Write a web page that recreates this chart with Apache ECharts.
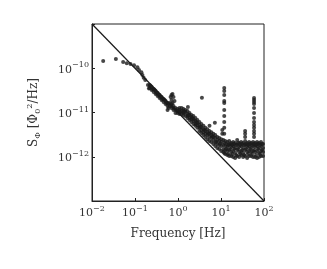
<!DOCTYPE html>
<html><head><meta charset="utf-8">
<script src="https://cdn.jsdelivr.net/npm/echarts@6/dist/echarts.min.js"></script>
<style>html,body{margin:0;padding:0;background:#fff}#c{width:327px;height:269px}</style>
</head><body><div id="c"></div>
<script>
// axis ticks (exponents of 10)
const xTickExps = [-2, -1, 0, 1, 2];
const yTickExps = [-10, -11, -12];
// reference 1/f line endpoints
const refFreq = [0.01, 100];
const refS = [1e-9, 1e-13];
// measured spectrum points [frequency Hz, S]
const lowFreq = [[0.0182,1.46e-10],[0.0359,1.62e-10],[0.053,1.38e-10],[0.0644,1.29e-10],[0.0785,1.25e-10],[0.095,1.17e-10],[0.114,1.05e-10],[0.124,9.1e-11],[0.141,8.1e-11],[0.149,7.0e-11],[0.159,6.1e-11],[0.173,5.4e-11],[0.2,4.2e-11],[0.211,3.5e-11]];
const rolloff = [[0.219,4.19e-11],[0.219,3.58e-11],[0.231,3.97e-11],[0.244,3.77e-11],[0.244,3.22e-11],[0.257,3.40e-11],[0.272,3.40e-11],[0.272,2.90e-11],[0.286,3.22e-11],[0.302,3.06e-11],[0.302,2.62e-11],[0.318,2.76e-11],[0.336,2.76e-11],[0.336,2.36e-11],[0.354,2.49e-11],[0.373,2.49e-11],[0.373,2.13e-11],[0.394,2.24e-11],[0.415,2.24e-11],[0.415,1.92e-11],[0.438,2.02e-11],[0.462,2.02e-11],[0.462,1.73e-11],[0.487,1.92e-11],[0.514,1.82e-11],[0.514,1.56e-11],[0.542,1.64e-11],[0.572,1.64e-11],[0.572,1.40e-11],[0.572,1.14e-11],[0.603,1.56e-11],[0.603,1.26e-11],[0.636,1.64e-11],[0.636,1.40e-11],
 [0.672,2.24e-11],[0.707,2.49e-11],[0.745,2.62e-11],[0.707,1.92e-11],[0.787,2.24e-11],[0.829,1.82e-11],[0.745,1.64e-11]];
const knee = [[0.707,1.56e-11],[0.707,1.40e-11],[0.707,1.26e-11],[0.787,1.40e-11],[0.787,1.26e-11],[0.787,1.14e-11],[0.875,1.26e-11],[0.875,1.14e-11],[0.875,9.8e-12],[0.973,1.20e-11],[0.973,1.08e-11],[0.973,9.8e-12],
 [1.08,1.26e-11],[1.08,1.14e-11],[1.08,1.03e-11],[1.08,9.3e-12],[1.21,1.26e-11],[1.21,1.08e-11],[1.21,9.3e-12],[1.34,1.20e-11],[1.34,1.08e-11],[1.34,9.8e-12],[1.34,8.8e-12],[1.49,1.14e-11],[1.49,1.03e-11],[1.49,8.3e-12],
 [1.66,1.08e-11],[1.66,9.3e-12],[1.66,8.3e-12],[1.66,7.5e-12],[1.85,9.8e-12],[1.85,8.8e-12],[1.85,7.5e-12],[1.85,6.8e-12],[2.05,8.8e-12],[2.05,7.9e-12],[2.05,7.1e-12],[2.05,6.1e-12],[2.28,8.3e-12],[2.28,7.1e-12],[2.28,6.4e-12],[2.28,5.5e-12],
 [2.54,7.5e-12],[2.54,6.4e-12],[2.54,5.5e-12],[2.54,5.0e-12],[2.82,6.8e-12],[2.82,5.8e-12],[2.82,5.2e-12],[2.82,4.5e-12],[3.14,6.1e-12],[3.14,5.2e-12],[3.14,4.5e-12],[3.14,3.8e-12],[3.49,5.5e-12],[3.49,4.7e-12],[3.49,4.0e-12],[3.49,3.45e-12],
 [3.89,5.0e-12],[3.89,4.2e-12],[3.89,3.6e-12],[3.89,3.1e-12],[4.32,4.5e-12],[4.32,3.8e-12],[4.32,3.3e-12],[4.32,2.8e-12],[4.81,4.2e-12],[4.81,3.6e-12],[4.81,3.1e-12],[4.81,2.5e-12],[5.35,3.8e-12],[5.35,3.3e-12],[5.35,2.8e-12],[5.35,2.27e-12],
 [5.95,3.6e-12],[5.95,3.1e-12],[5.95,2.65e-12],[5.95,2.15e-12],[6.62,3.3e-12],[6.62,2.8e-12],[6.62,2.4e-12],[6.62,1.94e-12],[7.36,3.1e-12],[7.36,2.65e-12],[7.36,2.15e-12],[7.36,1.75e-12],[8.19,2.8e-12],[8.19,2.4e-12],[8.19,1.94e-12],[8.19,1.58e-12],
 [9.12,2.65e-12],[9.12,2.27e-12],[9.12,1.84e-12],[9.12,1.5e-12],[10.1,2.5e-12],[10.1,2.15e-12],[10.1,1.75e-12],[10.1,1.35e-12],
 [1.14,1.03e-11],[1.41,1.03e-11],[1.75,8.8e-12],[2.16,7.5e-12],[2.68,6.1e-12],[3.31,4.7e-12],[4.10,4.0e-12],[5.07,3.3e-12],[6.28,2.9e-12],[7.76,2.15e-12],[9.6,2.0e-12]];
const plateau = [[11.3,2.4e-12],[11.3,1.84e-12],[11.3,1.5e-12],[11.3,1.28e-12],[12.5,2.27e-12],[12.5,1.75e-12],[12.5,1.42e-12],[12.5,1.15e-12],[14.0,2.15e-12],[14.0,1.66e-12],[14.0,1.35e-12],[14.0,1.09e-12],
 [15.5,2.27e-12],[15.5,1.84e-12],[15.5,1.42e-12],[15.5,1.04e-12],[17.3,2.05e-12],[17.3,1.66e-12],[17.3,1.28e-12],[17.3,1.04e-12],[19.2,2.15e-12],[19.2,1.75e-12],[19.2,1.35e-12],[19.2,9.9e-13],
 [21.3,2.05e-12],[21.3,1.58e-12],[21.3,1.21e-12],[21.3,9.4e-13],[23.8,2.4e-12],[23.8,1.84e-12],[23.8,1.42e-12],[23.8,1.04e-12],[26.4,2.05e-12],[26.4,1.66e-12],[26.4,1.28e-12],[26.4,9.9e-13],
 [29.4,2.15e-12],[29.4,1.75e-12],[29.4,1.35e-12],[29.4,1.09e-12],[32.7,2.05e-12],[32.7,1.58e-12],[32.7,1.21e-12],[32.7,9.9e-13],[36.4,2.27e-12],[36.4,1.84e-12],[36.4,1.42e-12],[36.4,1.04e-12],
 [40.5,2.05e-12],[40.5,1.66e-12],[40.5,1.28e-12],[40.5,9.4e-13],[45.0,2.15e-12],[45.0,1.75e-12],[45.0,1.35e-12],[45.0,1.04e-12],[50.0,2.05e-12],[50.0,1.58e-12],[50.0,1.28e-12],[50.0,1.04e-12],
 [55.7,2.15e-12],[55.7,1.75e-12],[55.7,1.35e-12],[55.7,9.9e-13],[61.9,2.05e-12],[61.9,1.66e-12],[61.9,1.28e-12],[61.9,9.9e-13],[68.9,2.15e-12],[68.9,1.75e-12],[68.9,1.35e-12],[68.9,9.4e-13],
 [76.6,2.05e-12],[76.6,1.58e-12],[76.6,1.21e-12],[76.6,9.9e-13],[85.3,2.15e-12],[85.3,1.75e-12],[85.3,1.35e-12],[85.3,1.04e-12],[94.8,1.94e-12],[94.8,1.58e-12],[94.8,1.28e-12],[94.8,1.04e-12],
 [11.9,2.05e-12],[11.9,1.21e-12],[13.3,1.94e-12],[13.3,1.5e-12],[14.7,1.84e-12],[14.7,1.15e-12],[16.4,1.94e-12],[16.4,1.5e-12],[18.2,1.84e-12],[18.2,1.15e-12],[20.2,1.94e-12],[20.2,1.5e-12],
 [22.5,1.84e-12],[22.5,1.09e-12],[25.0,2.05e-12],[25.0,1.5e-12],[27.9,1.84e-12],[27.9,1.15e-12],[31.0,1.94e-12],[31.0,1.42e-12],[34.5,1.84e-12],[34.5,1.09e-12],[38.4,1.94e-12],[38.4,1.5e-12],
 [42.7,1.84e-12],[42.7,1.15e-12],[47.4,1.94e-12],[47.4,1.5e-12],[52.8,1.84e-12],[52.8,1.15e-12],[58.7,1.94e-12],[58.7,1.42e-12],[65.3,1.84e-12],[65.3,1.09e-12],[72.6,1.94e-12],[72.6,1.5e-12],
 [80.8,1.84e-12],[80.8,1.15e-12],[89.9,1.94e-12],[89.9,1.42e-12],
 [36.4,3.8e-12],[36.4,3.3e-12],[36.4,2.8e-12],[10.7,4.0e-12],[10.7,3.3e-12]];
const spike12 = [[11.9,3.58e-11],[11.9,3.06e-11],[11.9,2.49e-11],[11.9,1.82e-11],[11.9,1.64e-11],[11.9,1.14e-11],[11.9,8.3e-12],[11.9,6.1e-12],[11.9,4.5e-12],[11.9,3.3e-12]];
const spike60 = [[58.7,2.13e-11],[58.7,1.92e-11],[58.7,1.73e-11],[58.7,1.56e-11],[58.7,1.26e-11],[58.7,9.8e-12],[58.7,7.5e-12],[58.7,6.1e-12],[58.7,5.2e-12],[58.7,4.5e-12],[58.7,3.8e-12],[58.7,3.3e-12],[58.7,2.8e-12]];
const outliers = [[1.7,1.33e-11],[3.6,2.15e-11],[5.4,5.0e-12],[7.2,5.9e-12]];

const serif = '"DejaVu Serif", "Liberation Serif", serif';
const txt = '#333';
const supLabel = v => {
  const e = Math.round(Math.log10(v));
  return '{b|10}{s|' + (e < 0 ? '\u2212' + (-e) : e) + '}';
};
const rich = {b: {fontFamily: serif, fontSize: 11, color: txt, lineHeight: 14, verticalAlign: 'bottom'},
              s: {fontFamily: serif, fontSize: 8, color: txt, lineHeight: 14, verticalAlign: 'top', padding: [0,0,6,0]}};
const allPts = lowFreq.concat(rolloff, knee, plateau, spike12, spike60, outliers);
const chart = echarts.init(document.getElementById('c'), null, {renderer: 'canvas'});
chart.setOption({
  animation: false,
  backgroundColor: '#fff',
  grid: {left: 92, right: 63, top: 24, bottom: 68, show: true, borderColor: '#222', borderWidth: 1},
  xAxis: {
    type: 'log', logBase: 10, min: 0.01, max: 100,
    name: 'Frequency [Hz]', nameLocation: 'middle', nameGap: 27,
    nameTextStyle: {fontFamily: serif, fontSize: 12, color: txt},
    axisLine: {show: true, lineStyle: {color: '#222'}},
    axisTick: {show: true, inside: true, length: 3, lineStyle: {color: '#222'}},
    splitLine: {show: false},
    axisLabel: {margin: 4, formatter: v => xTickExps.includes(Math.round(Math.log10(v))) ? supLabel(v) : '', rich: rich}
  },
  yAxis: {
    type: 'log', logBase: 10, min: 1e-13, max: 1e-9,
    name: '{t|S}{ts|\u03A6}{t| [\u03A6}{ts|0}{tp|2}{t|/Hz]}', nameLocation: 'middle', nameGap: 50, nameRotate: 90,
    nameTextStyle: {rich: {
      t: {fontFamily: serif, fontSize: 12, color: txt, lineHeight: 16, verticalAlign: 'middle'},
      ts: {fontFamily: serif, fontSize: 8, color: txt, lineHeight: 16, verticalAlign: 'bottom'},
      tp: {fontFamily: serif, fontSize: 8, color: txt, lineHeight: 16, verticalAlign: 'top'}
    }},
    axisLine: {show: true, lineStyle: {color: '#222'}},
    axisTick: {show: true, inside: true, length: 3, lineStyle: {color: '#222'}},
    splitLine: {show: false},
    axisLabel: {margin: 3, formatter: v => yTickExps.includes(Math.round(Math.log10(v))) ? supLabel(v) : '', rich: rich}
  },
  series: [
    {type: 'line', data: refFreq.map((f, i) => [f, refS[i]]), symbol: 'none',
     lineStyle: {color: '#1a1a1a', width: 1.2}, z: 2},
    {type: 'scatter', data: allPts, symbol: 'circle', symbolSize: 4,
     itemStyle: {color: '#1a1a1a'}, z: 3}
  ]
});
</script></body></html>
